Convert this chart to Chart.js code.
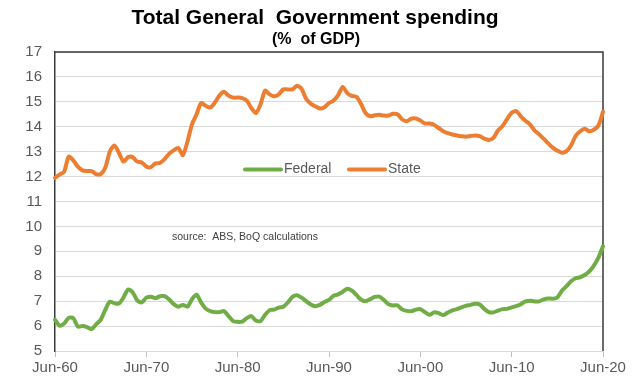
<!DOCTYPE html>
<html>
<head>
<meta charset="utf-8">
<script src="https://cdn.jsdelivr.net/npm/chart.js@4.4.1/dist/chart.umd.min.js"></script>
<style>
  html, body { margin: 0; padding: 0; background: #ffffff; }
  #wrap { width: 638px; height: 388px; position: relative; }
</style>
</head>
<body>
<div id="wrap"><canvas id="c" width="638" height="388"></canvas></div>
<script>
// Half-yearly observations, Jun-60 to Jun-20 (% of GDP)
const firstYear = 1960;
const lastYear = 2020;

const federal = [
  6.25, 6.02, 6.10, 6.33, 6.32, 5.98, 6.00, 5.96, 5.88, 6.07,
  6.25, 6.65, 6.98, 6.92, 6.90, 7.15, 7.47, 7.36, 7.03, 6.95,
  7.14, 7.18, 7.12, 7.20, 7.20, 7.07, 6.88, 6.78, 6.85, 6.78,
  7.08, 7.26, 6.95, 6.70, 6.60, 6.56, 6.56, 6.60, 6.40, 6.20,
  6.17, 6.18, 6.32, 6.40, 6.22, 6.20, 6.45, 6.64, 6.66, 6.74,
  6.78, 6.95, 7.17, 7.24, 7.14, 7.00, 6.87, 6.80, 6.85, 6.97,
  7.05, 7.22, 7.27, 7.38, 7.50, 7.42, 7.25, 7.06, 7.00, 7.08,
  7.17, 7.18, 7.05, 6.88, 6.83, 6.83, 6.67, 6.61, 6.60, 6.66,
  6.68, 6.56, 6.45, 6.55, 6.52, 6.44, 6.54, 6.63, 6.68, 6.75,
  6.81, 6.85, 6.90, 6.87, 6.69, 6.56, 6.55, 6.62, 6.68, 6.69,
  6.75, 6.80, 6.88, 6.99, 7.02, 6.99, 6.99, 7.07, 7.11, 7.10,
  7.15, 7.42, 7.60, 7.80, 7.92, 7.96, 8.05, 8.20, 8.43, 8.75,
  9.20
];

const state = [
  11.95, 12.08, 12.20, 12.80, 12.65, 12.40, 12.25, 12.22, 12.22, 12.10,
  12.10, 12.35, 13.00, 13.25, 12.95, 12.60, 12.78, 12.78, 12.60, 12.57,
  12.40, 12.38, 12.53, 12.55, 12.70, 12.92, 13.05, 13.15, 12.86, 13.40,
  14.10, 14.50, 14.95, 14.84, 14.77, 14.97, 15.25, 15.40, 15.25, 15.17,
  15.17, 15.15, 15.05, 14.75, 14.55, 14.90, 15.45, 15.30, 15.22, 15.30,
  15.50, 15.50, 15.50, 15.65, 15.52, 15.12, 14.93, 14.82, 14.73, 14.78,
  14.95, 15.05, 15.27, 15.60, 15.35, 15.24, 15.20, 14.92, 14.55, 14.42,
  14.46, 14.48, 14.45, 14.45, 14.52, 14.50, 14.30, 14.22, 14.32, 14.33,
  14.25, 14.13, 14.13, 14.08, 13.95, 13.82, 13.74, 13.69, 13.65, 13.62,
  13.60, 13.63, 13.65, 13.62, 13.52, 13.47, 13.55, 13.85, 14.03, 14.31,
  14.56, 14.63, 14.42, 14.24, 14.10, 13.85, 13.70, 13.52, 13.33, 13.16,
  13.04, 12.96, 13.02, 13.25, 13.63, 13.82, 13.92, 13.82, 13.88, 14.05,
  14.60
];

const seriesNames = ['Federal', 'State'];
const seriesColors = ['#70AD47', '#ED7D31'];
const yTicks = [5, 6, 7, 8, 9, 10, 11, 12, 13, 14, 15, 16, 17];
const titleText = 'Total General  Government spending';
const subtitleText = '(%  of GDP)';
const sourceText = 'source:  ABS, BoQ calculations';

// Period labels: Jun-YY and Dec-YY for every year
const periods = [];
for (let y = firstYear; y <= lastYear; y++) {
  const yy = String(y % 100).padStart(2, '0');
  periods.push('Jun-' + yy);
  if (y < lastYear) periods.push('Dec-' + yy);
}
const labelEvery = 20; // a labelled tick every ten years

const FONT = "Arial, 'Liberation Sans', sans-serif";
const GREY = '#595959';

const decorations = {
  id: 'decorations',
  beforeDatasetsDraw(chart) {
    const { ctx, chartArea: a } = chart;
    ctx.save();
    ctx.strokeStyle = '#3a3a3a';
    ctx.lineWidth = 1.5;
    ctx.beginPath();
    ctx.moveTo(a.left, a.top);
    ctx.lineTo(a.right, a.top);
    ctx.lineTo(a.right, a.bottom);
    ctx.stroke();
    ctx.restore();
  },
  afterDraw(chart) {
    const { ctx } = chart;
    ctx.save();
    // heading
    ctx.fillStyle = '#000000';
    ctx.textAlign = 'center';
    ctx.textBaseline = 'alphabetic';
    ctx.font = 'bold 21px ' + FONT;
    ctx.fillText(titleText, 315, 24);
    ctx.font = 'bold 16px ' + FONT;
    ctx.fillText(subtitleText, 316, 44);

    // legend inside the plot
    ctx.font = '14px ' + FONT;
    ctx.textAlign = 'left';
    ctx.textBaseline = 'middle';
    const ly = 169.5;
    const items = [{ x: 245 }, { x: 349 }];
    chart.data.datasets.forEach((ds, i) => {
      const x0 = items[i].x;
      ctx.strokeStyle = ds.borderColor;
      ctx.lineWidth = 4;
      ctx.lineCap = 'round';
      ctx.beginPath();
      ctx.moveTo(x0, ly);
      ctx.lineTo(x0 + 36, ly);
      ctx.stroke();
      ctx.fillStyle = GREY;
      ctx.fillText(ds.label, x0 + 39, ly);
    });

    // source note
    ctx.font = '10.5px ' + FONT;
    ctx.fillStyle = '#404040';
    ctx.fillText(sourceText, 172, 237);
    ctx.restore();
  }
};

new Chart(document.getElementById('c'), {
  type: 'line',
  data: {
    labels: periods,
    datasets: [
      {
        label: seriesNames[0],
        data: federal,
        borderColor: seriesColors[0],
        backgroundColor: seriesColors[0],
        borderWidth: 4,
        pointRadius: 0,
        tension: 0.25,
        borderCapStyle: 'round',
        borderJoinStyle: 'round'
      },
      {
        label: seriesNames[1],
        data: state,
        borderColor: seriesColors[1],
        backgroundColor: seriesColors[1],
        borderWidth: 4,
        pointRadius: 0,
        tension: 0.25,
        borderCapStyle: 'round',
        borderJoinStyle: 'round'
      }
    ]
  },
  options: {
    responsive: false,
    animation: false,
    devicePixelRatio: 1,
    layout: { padding: { top: 52, right: 35, bottom: 0, left: 0 } },
    plugins: {
      legend: { display: false },
      title: { display: false },
      tooltip: { enabled: false }
    },
    scales: {
      x: {
        type: 'category',
        offset: false,
        border: { display: true, color: '#d9d9d9', width: 1 },
        grid: {
          display: true,
          drawOnChartArea: false,
          drawTicks: true,
          tickLength: 6,
          color: (c) => (c.index % labelEvery === 0 ? '#bfbfbf' : 'rgba(0,0,0,0)')
        },
        ticks: {
          autoSkip: false,
          maxRotation: 0,
          minRotation: 0,
          padding: 2,
          color: GREY,
          font: { family: FONT, size: 15 },
          callback: (v, i) => (i % labelEvery === 0 ? periods[i] : '')
        },
        afterFit: (s) => { s.height = 37; }
      },
      y: {
        min: yTicks[0],
        max: yTicks[yTicks.length - 1],
        border: { display: true, color: '#3a3a3a', width: 1.5 },
        grid: {
          color: '#d9d9d9',
          lineWidth: 1,
          drawTicks: false
        },
        afterBuildTicks: (s) => { s.ticks = yTicks.map(v => ({ value: v })); },
        ticks: {
          color: GREY,
          padding: 13,
          font: { family: FONT, size: 15 }
        },
        afterFit: (s) => { s.width = 55; }
      }
    }
  },
  plugins: [decorations]
});
</script>
</body>
</html>
